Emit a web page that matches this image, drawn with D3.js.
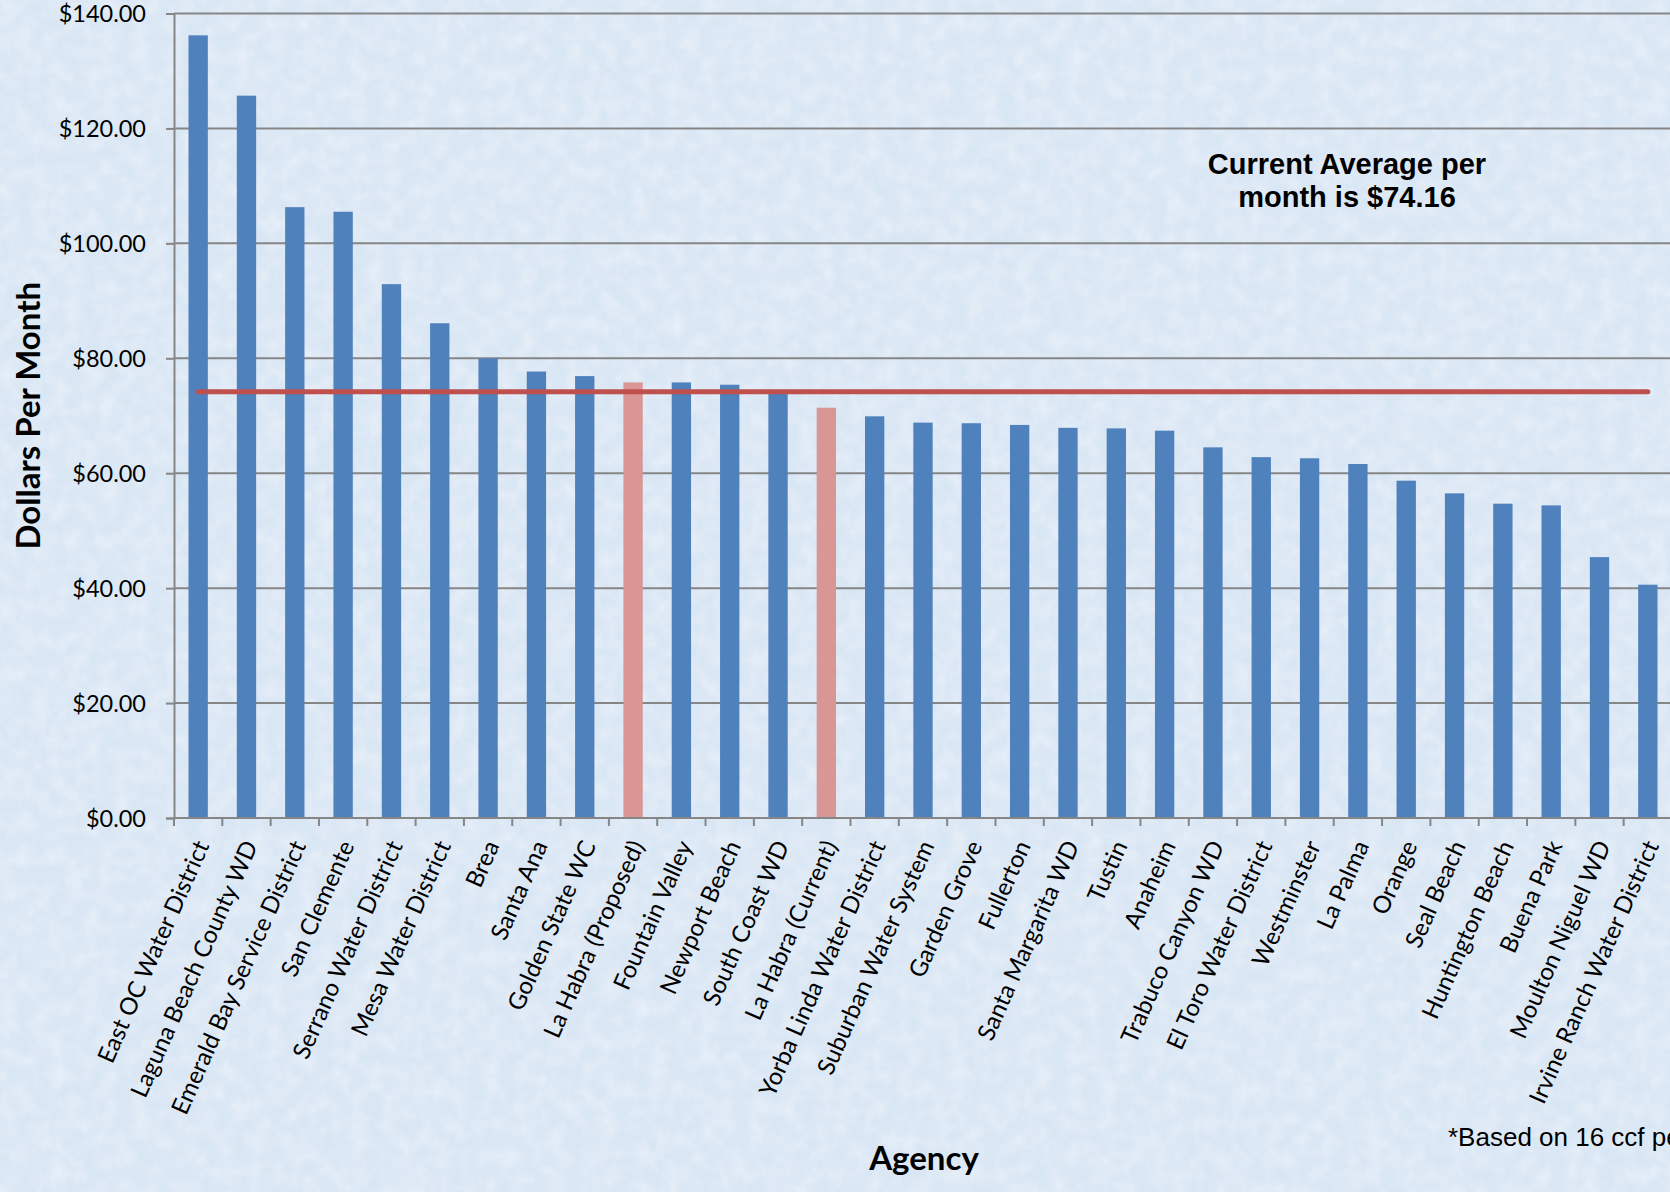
<!DOCTYPE html>
<html>
<head>
<meta charset="utf-8">
<script src="https://cdn.jsdelivr.net/npm/d3@7"></script>
<style>
  body { margin: 0; background: #dce8f5; }
  svg { display: block; }
  .tick text { fill: #000; }
</style>
</head>
<body>
<div id="chart"></div>
<script>
// data
var agencies = [
  "East OC Water District", "Laguna Beach County WD", "Emerald Bay Service District",
  "San Clemente", "Serrano Water District", "Mesa Water District", "Brea", "Santa Ana",
  "Golden State WC", "La Habra (Proposed)", "Fountain Valley", "Newport Beach",
  "South Coast WD", "La Habra (Current)", "Yorba Linda Water District",
  "Suburban Water System", "Garden  Grove", "Fullerton", "Santa Margarita WD", "Tustin",
  "Anaheim", "Trabuco Canyon WD", "El Toro Water District", "Westminster", "La Palma",
  "Orange", "Seal Beach", "Huntington Beach", "Buena Park", "Moulton Niguel WD",
  "Irvine Ranch Water District"
];
var monthly = [
  136.2, 125.7, 106.3, 105.5, 92.9, 86.1, 80.0, 77.7,
  76.9, 75.8, 75.8, 75.4,
  74.4, 71.4, 69.9,
  68.8, 68.7, 68.4, 67.9, 67.8,
  67.4, 64.5, 62.8, 62.6, 61.6,
  58.7, 56.5, 54.7, 54.4, 45.4,
  40.6
];
var highlighted = ["La Habra (Proposed)", "La Habra (Current)"];
var average = 74.16;
var yTicks = [0, 20, 40, 60, 80, 100, 120, 140];

var W = 1670, H = 1192;
var svg = d3.select('#chart').append('svg')
  .attr('width', W).attr('height', H);

// paper-like texture behind everything
var defs = svg.append('defs');
var f = defs.append('filter').attr('id', 'paper')
  .attr('x', 0).attr('y', 0).attr('width', '100%').attr('height', '100%');
f.append('feTurbulence').attr('type', 'fractalNoise')
  .attr('baseFrequency', 0.06).attr('numOctaves', 3).attr('seed', 4).attr('result', 'n');
f.append('feColorMatrix').attr('type', 'matrix')
  .attr('values', '0 0 0 0 1  0 0 0 0 1  0 0 0 0 1  0 0 0 -1.6 1.05');
svg.append('rect').attr('width', W).attr('height', H).attr('fill', '#d9e6f4');
svg.append('rect').attr('width', W).attr('height', H)
  .attr('filter', 'url(#paper)').attr('opacity', 0.4);

var mLeft = 174, mRight = 1672, mTop = 13.5, mBottom = 818;

var x = d3.scaleBand().domain(agencies).range([mLeft, mRight]).padding(0);
var y = d3.scaleLinear().domain([0, 140]).range([mBottom, mTop]);

// grid
svg.append('g').selectAll('line').data(yTicks.slice(1))
  .enter().append('line')
  .attr('x1', mLeft).attr('x2', W)
  .attr('y1', function(d) { return y(d); })
  .attr('y2', function(d) { return y(d); })
  .attr('stroke', '#868686').attr('stroke-width', 2);

// y axis
var yAxis = svg.append('g').attr('transform', 'translate(' + mLeft + ',0)')
  .call(d3.axisLeft(y).tickValues(yTicks).tickFormat(d3.format('$.2f'))
    .tickSize(8).tickPadding(20));
yAxis.selectAll('line, path').attr('stroke', '#868686').attr('stroke-width', 2);
yAxis.selectAll('text').attr('font-family', 'Lato, "Open Sans", sans-serif')
  .attr('font-size', 23.5).attr('dy', '0.35em');

// bars
svg.append('g').selectAll('rect').data(agencies)
  .enter().append('rect')
  .attr('x', function(d) { return x(d) + x.bandwidth() * 0.3; })
  .attr('width', x.bandwidth() * 0.4)
  .attr('y', function(d, i) { return y(monthly[i]); })
  .attr('height', function(d, i) { return mBottom - y(monthly[i]); })
  .attr('fill', function(d) { return highlighted.indexOf(d) >= 0 ? '#d99694' : '#4f81bd'; });

// x axis with ticks between categories
var xg = svg.append('g').attr('transform', 'translate(0,' + mBottom + ')');
xg.append('line').attr('x1', mLeft).attr('x2', W)
  .attr('stroke', '#868686').attr('stroke-width', 2);
xg.selectAll('line.tk').data(agencies)
  .enter().append('line').attr('class', 'tk')
  .attr('x1', function(d) { return x(d); }).attr('x2', function(d) { return x(d); })
  .attr('y1', 0).attr('y2', 8)
  .attr('stroke', '#868686').attr('stroke-width', 2);
xg.selectAll('text').data(agencies)
  .enter().append('text')
  .attr('transform', function(d) {
    return 'translate(' + (x(d) + x.bandwidth() / 2 + 4) + ',24) rotate(-66)';
  })
  .attr('text-anchor', 'end').attr('dy', '0.35em')
  .attr('font-family', 'Lato, "Open Sans", sans-serif').attr('font-size', 24)
  .text(function(d) { return d; });

// average line
var first = agencies[0], last = agencies[agencies.length - 1];
svg.append('line')
  .attr('x1', x(first) + x.bandwidth() / 2)
  .attr('x2', x(last) + x.bandwidth() / 2)
  .attr('y1', y(average)).attr('y2', y(average))
  .attr('stroke', '#c0504d').attr('stroke-width', 5).attr('stroke-linecap', 'round');

// labels
svg.append('text')
  .attr('transform', 'translate(40,' + ((mTop + mBottom) / 2) + ') rotate(-90)')
  .attr('text-anchor', 'middle')
  .attr('font-family', 'Lato, "Open Sans", sans-serif').attr('font-weight', 'bold')
  .attr('font-size', 33).text('Dollars Per Month');

svg.append('text').attr('x', 924).attr('y', 1170).attr('text-anchor', 'middle')
  .attr('font-family', 'Lato, "Open Sans", sans-serif').attr('font-weight', 'bold')
  .attr('font-size', 33).text('Agency');

var note = svg.append('text').attr('text-anchor', 'middle')
  .attr('font-family', '"Liberation Sans", Arial, sans-serif').attr('font-weight', 'bold')
  .attr('font-size', 29);
note.append('tspan').attr('x', 1347).attr('y', 174).text('Current Average per');
note.append('tspan').attr('x', 1347).attr('y', 207).text('month is $' + average.toFixed(2));

svg.append('text').attr('x', 1448).attr('y', 1146)
  .attr('font-family', '"Liberation Sans", Arial, sans-serif').attr('font-size', 26)
  .text('*Based on 16 ccf per month');
</script>
</body>
</html>
